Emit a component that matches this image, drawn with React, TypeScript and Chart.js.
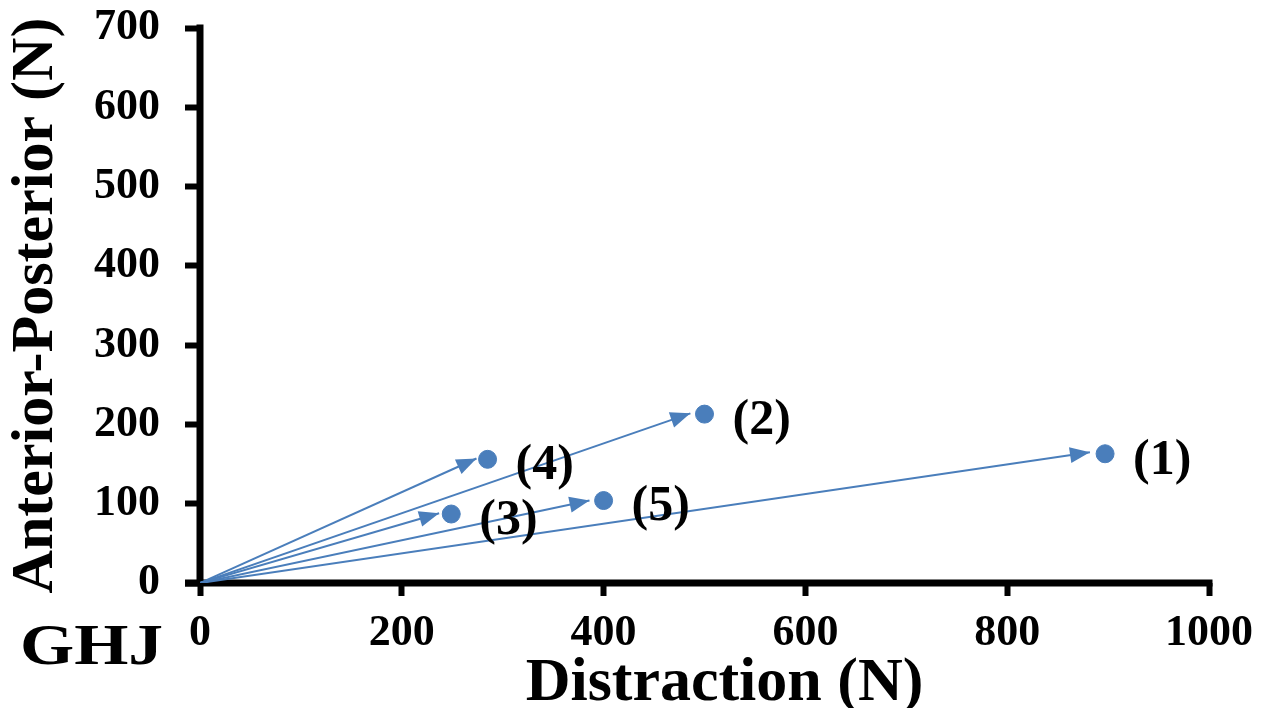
import React, { useEffect, useRef } from "react";
import { Chart, registerables } from "chart.js";

Chart.register(...registerables);

// Resultant force vectors at the glenohumeral joint (GHJ), in newtons
const caseLabels = ["(1)", "(2)", "(3)", "(4)", "(5)"];
const distractionN = [897, 500, 249, 285, 400];
const anteriorPosteriorN = [163, 213, 87, 156, 104];
// arrow tips stop just short of each end point
const arrowTipX = [882, 486, 237, 274, 386];
const arrowTipY = [165, 214, 88, 157, 104];

const xTicks = [0, 200, 400, 600, 800, 1000];
const yTicks = [0, 100, 200, 300, 400, 500, 600, 700];

const BLUE = "#4a7ebb";
const SERIF = "'Liberation Serif', 'Times New Roman', serif";
const AXIS_W = 7;

// heavy axis lines drawn under the data
const axesPlugin = {
  id: "heavyAxes",
  beforeDatasetsDraw(chart: any) {
    const { ctx, chartArea } = chart;
    ctx.save();
    ctx.strokeStyle = "#000";
    ctx.lineWidth = AXIS_W;
    ctx.lineCap = "butt";
    ctx.beginPath();
    ctx.moveTo(chartArea.left, chartArea.top - AXIS_W / 2);
    ctx.lineTo(chartArea.left, chartArea.bottom);
    ctx.moveTo(chartArea.left - 15, chartArea.bottom);
    ctx.lineTo(chartArea.right + AXIS_W / 2, chartArea.bottom);
    ctx.stroke();
    ctx.restore();
  },
};

const overlayPlugin = {
  id: "vectorOverlay",
  afterDatasetsDraw(chart: any) {
    const { ctx, chartArea } = chart;
    const xs = chart.scales.x;
    const ys = chart.scales.y;
    const x0 = xs.getPixelForValue(0);
    const y0 = ys.getPixelForValue(0);
    // arrowheads
    for (let i = 0; i < arrowTipX.length; i++) {
      const x1 = xs.getPixelForValue(arrowTipX[i]);
      const y1 = ys.getPixelForValue(arrowTipY[i]);
      const ang = Math.atan2(y1 - y0, x1 - x0);
      ctx.save();
      ctx.translate(x1, y1);
      ctx.rotate(ang);
      ctx.beginPath();
      ctx.moveTo(0, 0);
      ctx.lineTo(-20, -8);
      ctx.lineTo(-20, 8);
      ctx.closePath();
      ctx.fillStyle = BLUE;
      ctx.fill();
      ctx.restore();
    }
    // case labels beside the end points
    ctx.save();
    ctx.font = `bold 50px ${SERIF}`;
    ctx.fillStyle = "#000";
    ctx.textAlign = "left";
    ctx.textBaseline = "middle";
    for (let i = 0; i < caseLabels.length; i++) {
      const px = xs.getPixelForValue(distractionN[i]);
      const py = ys.getPixelForValue(anteriorPosteriorN[i]);
      ctx.fillText(caseLabels[i], px + 28, py + 7);
    }
    // x-axis title, sitting a little right of the plot centre
    ctx.font = `bold 62px ${SERIF}`;
    ctx.textAlign = "center";
    ctx.textBaseline = "alphabetic";
    ctx.fillText("Distraction (N)", (chartArea.left + chartArea.right) / 2 + 20, 700);
    // joint tag in the lower-left corner, set slightly wide
    ctx.font = `bold 58px ${SERIF}`;
    ctx.textAlign = "left";
    ctx.translate(20, 664);
    ctx.scale(1.2, 1);
    ctx.fillText("GHJ", 0, 0);
    ctx.restore();
  },
};

export default function App() {
  const canvasRef = useRef<HTMLCanvasElement | null>(null);

  useEffect(() => {
    const canvas = canvasRef.current;
    if (!canvas) return;

    const arrowSets = arrowTipX.map((tx, i) => ({
      type: "line" as const,
      data: [
        { x: 0, y: 0 },
        { x: tx, y: arrowTipY[i] },
      ],
      borderColor: BLUE,
      borderWidth: 2,
      pointRadius: 0,
      fill: false,
      tension: 0,
    }));

    const pointSet = {
      type: "scatter" as const,
      data: distractionN.map((x, i) => ({ x, y: anteriorPosteriorN[i] })),
      backgroundColor: BLUE,
      borderColor: BLUE,
      pointRadius: 9,
      pointHoverRadius: 9,
    };

    const zeroPad = (scale: any) => {
      scale.paddingLeft = 0;
      scale.paddingRight = 0;
      scale.paddingTop = 0;
      scale.paddingBottom = 0;
    };

    const chart = new Chart(canvas, {
      type: "scatter",
      data: { datasets: [...arrowSets, pointSet] as any },
      options: {
        animation: false,
        responsive: false,
        events: [],
        layout: { padding: { left: 0, top: 28, right: 63, bottom: 0 } },
        plugins: {
          legend: { display: false },
          tooltip: { enabled: false },
        },
        scales: {
          x: {
            type: "linear",
            min: 0,
            max: 1000,
            afterFit: (s: any) => {
              s.height = 125;
              zeroPad(s);
            },
            afterBuildTicks: (s: any) => {
              s.ticks = xTicks.map((v) => ({ value: v }));
            },
            grid: {
              drawOnChartArea: false,
              drawTicks: true,
              tickLength: 13,
              tickWidth: 6,
              tickColor: "#000",
            },
            border: { display: false },
            ticks: {
              color: "#000",
              padding: 11,
              maxRotation: 0,
              callback: (v: any) => String(v),
              font: { family: SERIF, size: 44, weight: "bold" },
            },
            title: { display: false },
          },
          y: {
            type: "linear",
            min: 0,
            max: 700,
            afterFit: (s: any) => {
              s.width = 200;
              zeroPad(s);
            },
            afterBuildTicks: (s: any) => {
              s.ticks = yTicks.map((v) => ({ value: v }));
            },
            grid: {
              drawOnChartArea: false,
              drawTicks: true,
              tickLength: 15,
              tickWidth: 6,
              tickColor: "#000",
            },
            border: { display: false },
            ticks: {
              color: "#000",
              padding: 25,
              callback: (v: any) => String(v),
              font: { family: SERIF, size: 44, weight: "bold" },
            },
            title: {
              display: true,
              text: "Anterior-Posterior (N)",
              color: "#000",
              padding: { top: 0, bottom: 0 },
              font: { family: SERIF, size: 60, weight: "bold" },
            },
          },
        },
      },
      plugins: [axesPlugin, overlayPlugin],
    });

    return () => chart.destroy();
  }, []);

  return (
    <div style={{ position: "fixed", left: 0, top: 0, width: 1272, height: 708, background: "#fff" }}>
      <canvas ref={canvasRef} width={1272} height={708} style={{ display: "block" }} />
    </div>
  );
}
